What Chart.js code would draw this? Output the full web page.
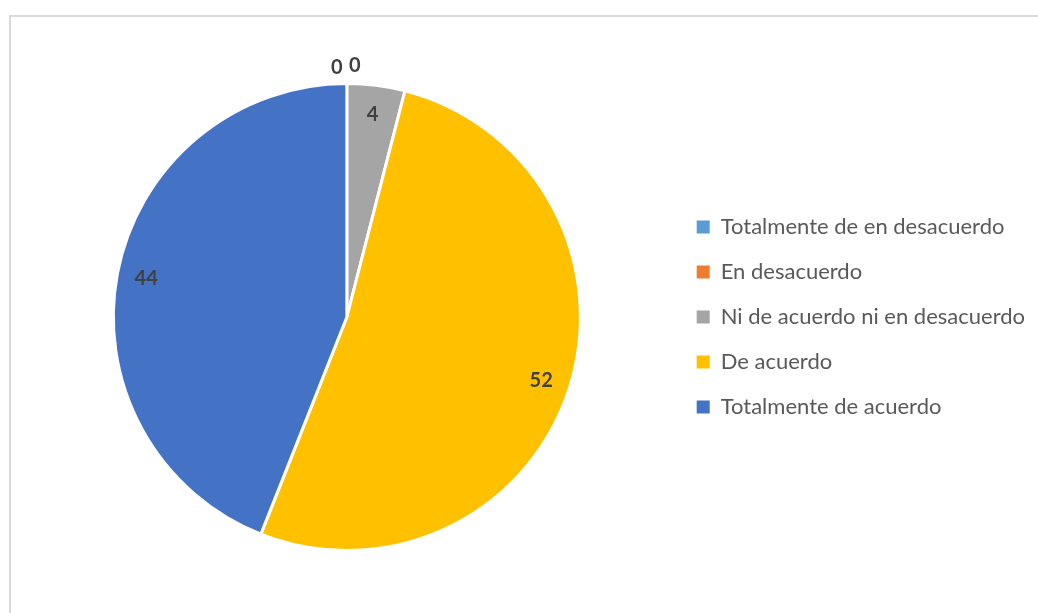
<!DOCTYPE html>
<html>
<head>
<meta charset="utf-8">
<title>Pie</title>
<script src="https://cdn.jsdelivr.net/npm/chart.js@4"></script>
<style>
    html, body { margin: 0; padding: 0; background: #fff; }
    #wrap { position: absolute; left: 0; top: 0; width: 1038px; height: 613px; overflow: hidden; }
    #frame { position: absolute; left: 9px; top: 15px; width: 1050px; height: 620px; border: 2px solid #D9D9D9; box-sizing: border-box; }
    #pieChart { position: absolute; left: 0; top: 0; }
</style>
</head>
<body>
<div id="wrap">
    <div id="frame"></div>
    <canvas id="pieChart" width="1038" height="613"></canvas>
</div>
<script>
/* =========================
   DATA
========================= */

const categorias = [
    "Totalmente de en desacuerdo",
    "En desacuerdo",
    "Ni de acuerdo ni en desacuerdo",
    "De acuerdo",
    "Totalmente de acuerdo"
];

const valores = [0, 0, 4, 52, 44];

const colores = ["#5B9BD5", "#ED7D31", "#A5A5A5", "#FFC000", "#4472C4"];

/* =========================
   DATA LABELS
========================= */

const etiquetasPlugin = {
    id: "etiquetas",
    afterDatasetsDraw(chart) {
        const ctx = chart.ctx;
        const meta = chart.getDatasetMeta(0);
        const data = chart.data.datasets[0].data;

        ctx.save();
        ctx.font = "bold 20px Lato, sans-serif";
        ctx.fillStyle = "#404040";
        ctx.textAlign = "center";
        ctx.textBaseline = "middle";

        let ceros = 0;

        meta.data.forEach((arc, i) => {
            const v = data[i];
            const mid = (arc.startAngle + arc.endAngle) / 2;
            let x, y;

            if (v > 0) {
                const r = arc.outerRadius * 0.875;
                x = arc.x + Math.cos(mid) * r;
                y = arc.y + Math.sin(mid) * r;
            } else {
                // zero slices sit outside the rim, side by side
                const r = arc.outerRadius + 17;
                x = arc.x + Math.cos(mid) * r + (ceros === 0 ? -10 : 8);
                y = arc.y + Math.sin(mid) * r + (ceros === 0 ? 1 : -1);
                ceros++;
            }

            ctx.fillText(String(v), x, y);
        });

        ctx.restore();
    }
};

/* =========================
   CHART
========================= */

new Chart(document.getElementById("pieChart"), {

    type: "pie",

    data: {
        labels: categorias,
        datasets: [{
            data: valores,
            backgroundColor: colores,
            borderColor: "#ffffff",
            borderWidth: 3
        }]
    },

    options: {
        responsive: false,
        animation: false,
        events: [],
        layout: {
            padding: { top: 82, bottom: 61, left: 20, right: 3 }
        },
        plugins: {
            tooltip: { enabled: false },
            legend: {
                position: "right",
                labels: {
                    boxWidth: 13,
                    boxHeight: 13,
                    padding: 23,
                    color: "#595959",
                    font: { family: "Lato, sans-serif", size: 22 },
                    generateLabels(chart) {
                        const items = Chart.overrides.pie.plugins.legend.labels.generateLabels(chart);
                        items.forEach(item => { item.lineWidth = 0; });
                        return items;
                    }
                }
            }
        }
    },

    plugins: [etiquetasPlugin]

});
</script>
</body>
</html>
